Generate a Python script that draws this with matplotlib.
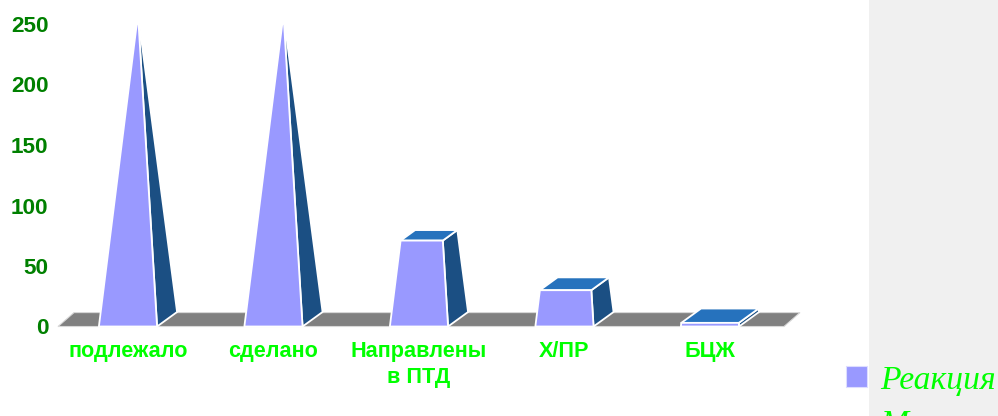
import matplotlib
matplotlib.use("Agg")
import matplotlib.pyplot as plt
from matplotlib.patches import Polygon, Rectangle

categories = ["подлежало", "сделано", "Направлены\nв ПТД", "Х/ПР", "БЦЖ"]
values = [250, 250, 71, 30, 3]
y_ticks = [0, 50, 100, 150, 200, 250]
legend_lines = ["Реакция", "Манту"]

W, H = 998, 416
FRONT, SIDE, TOP, FLOOR = "#9999FF", "#1B4F83", "#2672BD", "#808080"
GREEN_D, GREEN_L = "#008000", "#00FF00"
SANS = "Liberation Sans"

fig = plt.figure(figsize=(W / 100, H / 100), dpi=100, facecolor="white")
fig.patches.append(Rectangle((869 / W, 0), 129 / W, 1, transform=fig.transFigure,
                             facecolor="#F0F0F0", edgecolor="none"))

ax = fig.add_axes([58 / W, 1 - 326.5 / H, 742 / W, 302.5 / H])
ax.patch.set_alpha(0)
ax.set_xlim(-0.481, 4.619)
ax.set_ylim(0, 250)
for s in ax.spines.values():
    s.set_visible(False)

half = 0.2
dx, dy = 0.1375, 12.0
fdx, fdy = 0.11, 11.5
apex_value = 258.0  # the white outline hides the very tip of each pyramid

ax.add_patch(Polygon([(-0.481, 0), (-0.481 + fdx, fdy), (4.619, fdy), (4.619 - fdx, 0)],
                     closed=True, facecolor=FLOOR, edgecolor="#D8D8D8", lw=0.8,
                     clip_on=False, zorder=1))


def corner(cx, ox, oy, t):
    ax_x = cx + dx / 2
    return (ox + (ax_x - ox) * t, oy + (apex_value - oy) * t)


for i, v in enumerate(values):
    t = v / apex_value
    x0, x1 = i - half, i + half
    fl0, fr0 = (x0, 0), (x1, 0)
    br0 = (x1 + dx, dy)
    fl1 = corner(i, x0, 0, t)
    fr1 = corner(i, x1, 0, t)
    br1 = corner(i, x1 + dx, dy, t)
    bl1 = corner(i, x0 + dx, dy, t)
    style = dict(closed=True, edgecolor="white", lw=1.3, clip_on=False, zorder=3,
                 joinstyle="round")
    ax.add_patch(Polygon([fr0, br0, br1, fr1], facecolor=SIDE, **style))
    if v < max(y_ticks):
        ax.add_patch(Polygon([fl1, fr1, br1, bl1], facecolor=TOP, **style))
    ax.add_patch(Polygon([fl0, fr0, fr1, fl1], facecolor=FRONT, **style))

ax.set_yticks(y_ticks)
ax.set_yticklabels([str(t) for t in y_ticks], family=SANS, fontweight="bold",
                   fontsize=16.2, color=GREEN_D)
ax.tick_params(axis="y", length=0, pad=7)
ax.set_xticks(range(len(categories)))
ax.set_xticklabels(categories, family=SANS, fontweight="bold", fontsize=15.6,
                   color=GREEN_L, linespacing=1.3)
ax.tick_params(axis="x", length=0, pad=10.5)

fig.patches.append(Rectangle((846 / W, 1 - 387 / H), 21 / W, 21 / H, transform=fig.transFigure,
                             facecolor=FRONT, edgecolor="#DDDDFF", lw=0.8))
for line, base in zip(legend_lines, [389, 433]):
    fig.text(880 / W, 1 - base / H, line, family="Liberation Serif", style="italic",
             fontsize=24.2, color=GREEN_L, va="baseline", ha="left")

fig.savefig("out.png", dpi=100)
